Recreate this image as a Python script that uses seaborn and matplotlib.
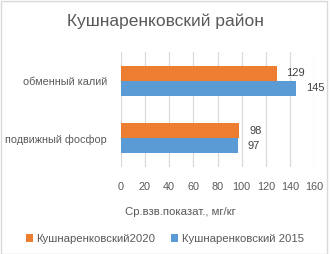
import matplotlib
matplotlib.use("Agg")
import matplotlib.pyplot as plt
from matplotlib.patches import Patch, Rectangle
import seaborn as sns
import pandas as pd

categories = ["обменный калий", "подвижный фосфор"]
series_names = ["Кушнаренковский2020", "Кушнаренковский 2015"]
values_2020 = [129, 98]
values_2015 = [145, 97]
x_ticks = [0, 20, 40, 60, 80, 100, 120, 140, 160]

title = "Кушнаренковский район"
x_label = "Ср.взв.показат., мг/кг"
colors = ["#ED7D31", "#5B9BD5"]

df = pd.DataFrame({
    "category": categories * 2,
    "series": [series_names[0]] * 2 + [series_names[1]] * 2,
    "value": values_2020 + values_2015,
})

sns.set_theme(style="white")
plt.rcParams["font.family"] = ["Liberation Sans", "DejaVu Sans"]

W, H = 330, 254
fig = plt.figure(figsize=(W / 100, H / 100), dpi=100)
ax = fig.add_axes([120.7 / W, 1 - 167 / H, (314.3 - 120.7) / W, (167 - 52) / H])

sns.barplot(data=df, y="category", x="value", hue="series", order=categories,
            hue_order=series_names, palette=colors, width=0.53, orient="h",
            ax=ax, legend=False, saturation=1, linewidth=0)

for c in ax.containers:
    ax.bar_label(c, padding=7, fontsize=8, color="#404040")

ax.set_xlim(0, 160)
ax.set_xticks(x_ticks)
ax.set_xticklabels([str(t) for t in x_ticks], fontsize=7.8, color="#595959")
ax.tick_params(axis="x", length=0, pad=11)
ax.tick_params(axis="y", length=0, pad=10, labelsize=7.8, labelcolor="#595959")
ax.grid(axis="x", color="#d9d9d9", linewidth=0.9)
ax.set_axisbelow(True)
for s in ax.spines.values():
    s.set_visible(False)
ax.set_ylabel("")
ax.set_xlabel("")

fig.text(180 / W, 1 - 212 / H, x_label, ha="center", va="center",
         fontsize=8.2, color="#595959")
fig.text(165 / W, 1 - 21 / H, title, ha="center", va="center",
         fontsize=12.5, color="#595959")

handles = [Patch(facecolor=col, edgecolor="none") for col in colors]
fig.legend(handles, series_names, loc="center", bbox_to_anchor=(165 / W, 1 - 239 / H),
           ncol=2, frameon=False, fontsize=8.2, handlelength=0.6, handleheight=0.6,
           handletextpad=0.3, columnspacing=1.4, labelcolor="#595959")

fig.patches.append(Rectangle((0.5 / W, 0.5 / H), 326 / W, 252.5 / H, transform=fig.transFigure,
                             fill=False, edgecolor="#d9d9d9", linewidth=1))

fig.savefig("out.png", dpi=100)
